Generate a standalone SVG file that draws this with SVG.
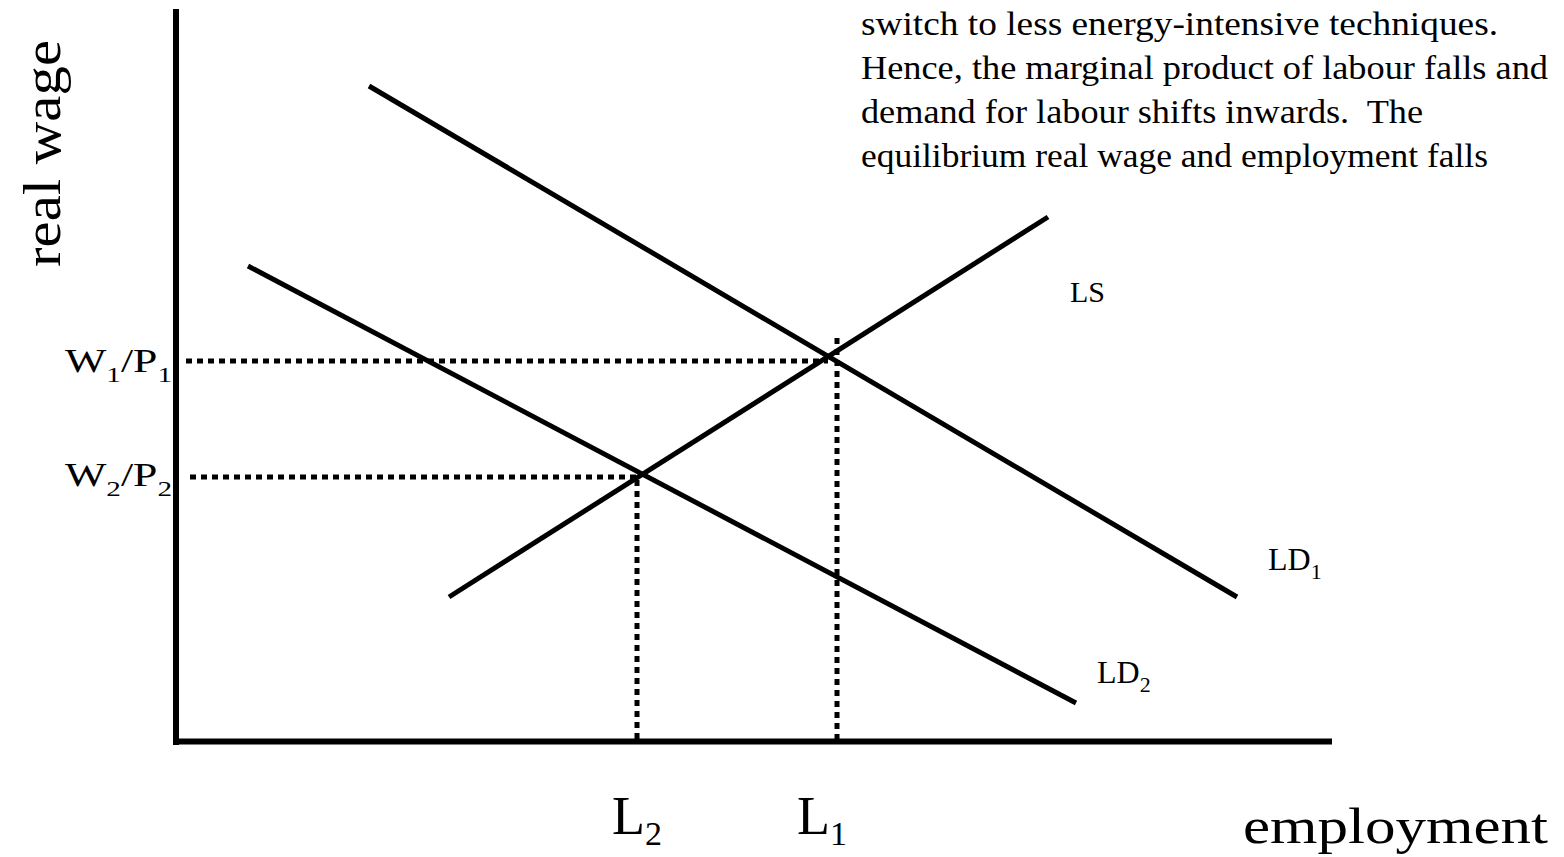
<svg xmlns="http://www.w3.org/2000/svg" width="1564" height="857" viewBox="0 0 1564 857">
<style>
.t{font-family:"Liberation Serif","Times New Roman",serif;fill:#000}
.ax{stroke:#000;stroke-width:6;fill:none}
.cv{stroke:#000;stroke-width:5;fill:none}
.dt{stroke:#000;stroke-width:5;fill:none;stroke-dasharray:6 5}
</style>
<rect width="1564" height="857" fill="#fff"/>
<g id="connectors">
<line class="ax" x1="176" y1="9" x2="176" y2="745"/>
<line class="ax" x1="173" y1="741.5" x2="1332" y2="741.5"/>
<line class="dt" x1="186" y1="361" x2="828" y2="361"/>
<line class="dt" x1="837" y1="338" x2="837" y2="739"/>
<line class="dt" x1="190" y1="477" x2="638" y2="477"/>
<line class="dt" x1="637" y1="480" x2="637" y2="739"/>
</g>
<g id="LD1"><line class="cv" x1="369" y1="86" x2="1237" y2="597"/><text class="t" x="1268" y="570" font-size="32">LD<tspan font-size="22" dy="9">1</tspan></text></g>
<g id="LD2"><line class="cv" x1="248" y1="266" x2="1076" y2="703"/><text class="t" x="1097" y="683" font-size="32">LD<tspan font-size="22" dy="9">2</tspan></text></g>
<g id="LS"><line class="cv" x1="449" y1="597" x2="1048" y2="217"/><text class="t" x="1070" y="302" font-size="30">LS</text></g>
<g id="ylabel"><text class="t" font-size="52" transform="translate(60,267) rotate(-90)" textLength="227" lengthAdjust="spacingAndGlyphs">real wage</text></g>
<g id="xlabel"><text class="t" x="1243" y="843" font-size="50" textLength="305" lengthAdjust="spacingAndGlyphs">employment</text></g>
<g id="w1p1"><text class="t" x="65" y="372" font-size="33" textLength="107" lengthAdjust="spacingAndGlyphs">W<tspan font-size="22" dy="10">1</tspan><tspan dy="-10">/P</tspan><tspan font-size="22" dy="10">1</tspan></text></g>
<g id="w2p2"><text class="t" x="65" y="486" font-size="33" textLength="107" lengthAdjust="spacingAndGlyphs">W<tspan font-size="22" dy="10">2</tspan><tspan dy="-10">/P</tspan><tspan font-size="22" dy="10">2</tspan></text></g>
<g id="L2"><text class="t" x="612" y="834" font-size="54">L<tspan font-size="34" dy="11">2</tspan></text></g>
<g id="L1"><text class="t" x="797" y="834" font-size="54">L<tspan font-size="34" dy="11">1</tspan></text></g>
<g id="note">
<text class="t" x="861" y="35" font-size="33" textLength="637" lengthAdjust="spacingAndGlyphs">switch to less energy-intensive techniques.</text>
<text class="t" x="861" y="79" font-size="33" textLength="687" lengthAdjust="spacingAndGlyphs">Hence, the marginal product of labour falls and</text>
<text class="t" x="861" y="123" font-size="33" textLength="562" lengthAdjust="spacingAndGlyphs" xml:space="preserve">demand for labour shifts inwards.  The</text>
<text class="t" x="861" y="167" font-size="33" textLength="627" lengthAdjust="spacingAndGlyphs">equilibrium real wage and employment falls</text>
</g>
</svg>
